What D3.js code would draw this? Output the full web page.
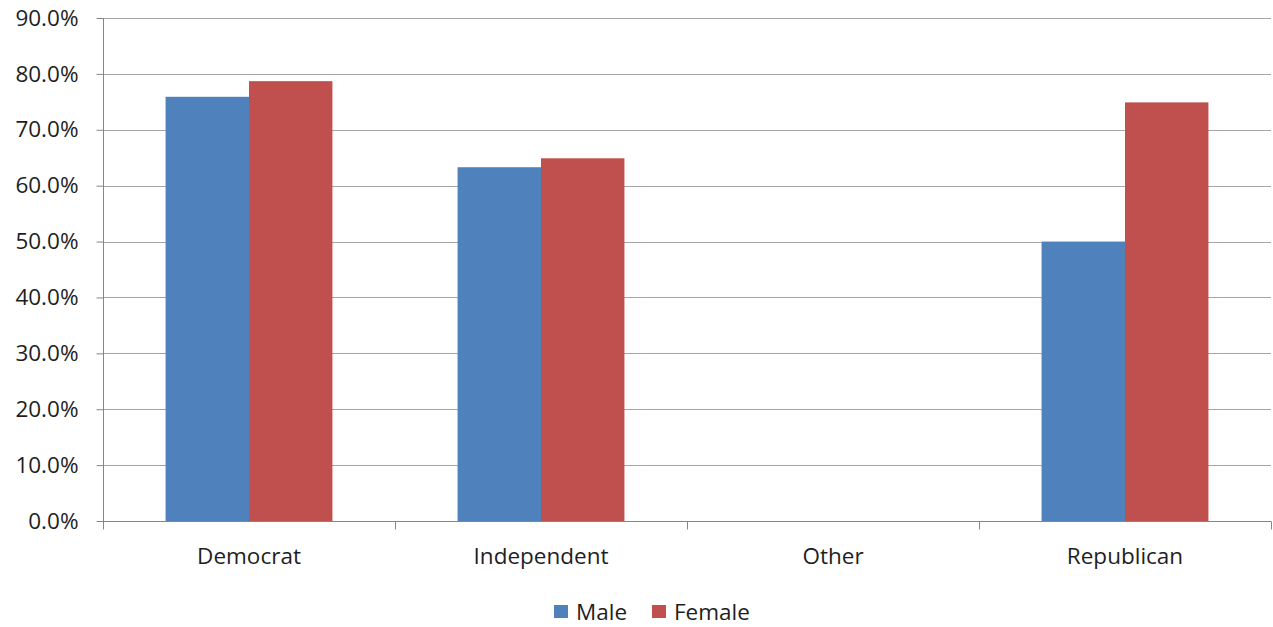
<!DOCTYPE html>
<html><head><meta charset="utf-8">
<script src="https://cdn.jsdelivr.net/npm/d3@7"></script>
<style>body{margin:0;background:#fff}svg{display:block}text{font-family:"Open Sans",sans-serif;fill:#1e1e1e}</style>
</head><body><svg id="c" width="1273" height="627"></svg>
<script>
const categories = ["Democrat","Independent","Other","Republican"];
const series = ["Male","Female"];
const maleValues = [0.759, 0.633, 0, 0.500];
const femaleValues = [0.787, 0.649, 0, 0.749];
const yTicks = [0,0.1,0.2,0.3,0.4,0.5,0.6,0.7,0.8,0.9];
const colors = ["#4F81BD","#C0504D"];

(function(){
const svg = d3.select("#c");
const mLeft = 103, mRight = 1271, mTop = 18, mBottom = 521;
const fs = 22.5;
const x0 = d3.scaleBand().domain(categories).range([mLeft,mRight]).paddingInner(0).paddingOuter(0);
const x1 = d3.scaleBand().domain(series).range([0,x0.bandwidth()]).paddingInner(0).paddingOuter(0.75);
const y = d3.scaleLinear().domain([0,0.9]).range([mBottom,mTop]);

// gridlines
svg.append("g").selectAll("line").data(yTicks.filter(d=>d>0)).join("line")
  .attr("x1",mLeft).attr("x2",mRight).attr("y1",d=>Math.round(y(d))+0.5).attr("y2",d=>Math.round(y(d))+0.5)
  .attr("stroke","#A6A6A6").attr("stroke-width",1);

// bars
const data = categories.map((c,i)=>({c, vals:[maleValues[i],femaleValues[i]]}));
const g = svg.append("g").selectAll("g").data(data).join("g").attr("transform",d=>`translate(${x0(d.c)},0)`);
g.selectAll("rect").data(d=>d.vals.map((v,j)=>({s:series[j],v,j}))).join("rect")
  .attr("x",d=>x1(d.s)).attr("width",x1.bandwidth())
  .attr("y",d=>y(d.v)).attr("height",d=>mBottom-y(d.v))
  .attr("fill",d=>colors[d.j]);

// y axis
const yAxis = d3.axisLeft(y).tickValues(yTicks).tickFormat(d3.format(".1%")).tickSize(7).tickPadding(18);
const ya = svg.append("g").attr("transform",`translate(${mLeft+0.5},0)`).call(yAxis);
ya.select(".domain").attr("stroke","#868686").attr("d",`M0,${mTop}V${mBottom}`);
ya.selectAll(".tick line").attr("stroke","#868686");
ya.selectAll(".tick text").attr("font-size",fs).attr("fill","#1e1e1e").attr("font-family","'Open Sans',sans-serif");

// x axis
const xa = svg.append("g").attr("transform",`translate(0,${mBottom+0.5})`);
xa.append("line").attr("x1",mLeft).attr("x2",mRight).attr("stroke","#868686");
const tickPos = categories.map(c=>x0(c)).concat([x0(categories[categories.length-1])+x0.bandwidth()]);
xa.selectAll("line.t").data(tickPos).join("line").attr("class","t")
  .attr("x1",d=>Math.round(d)+0.5).attr("x2",d=>Math.round(d)+0.5).attr("y1",0).attr("y2",8).attr("stroke","#868686");
xa.selectAll("text").data(categories).join("text")
  .attr("x",c=>x0(c)+x0.bandwidth()/2).attr("y",42).attr("text-anchor","middle").attr("font-size",fs).text(c=>c);

// legend
const leg = svg.append("g");
const legItems = [{s:"Male",x:554},{s:"Female",x:652}];
legItems.forEach((d,i)=>{
  leg.append("rect").attr("x",d.x).attr("y",605).attr("width",14).attr("height",13).attr("fill",colors[i]);
  leg.append("text").attr("x",d.x+22).attr("y",620).attr("font-size",fs).text(d.s);
});
})();
</script></body></html>
